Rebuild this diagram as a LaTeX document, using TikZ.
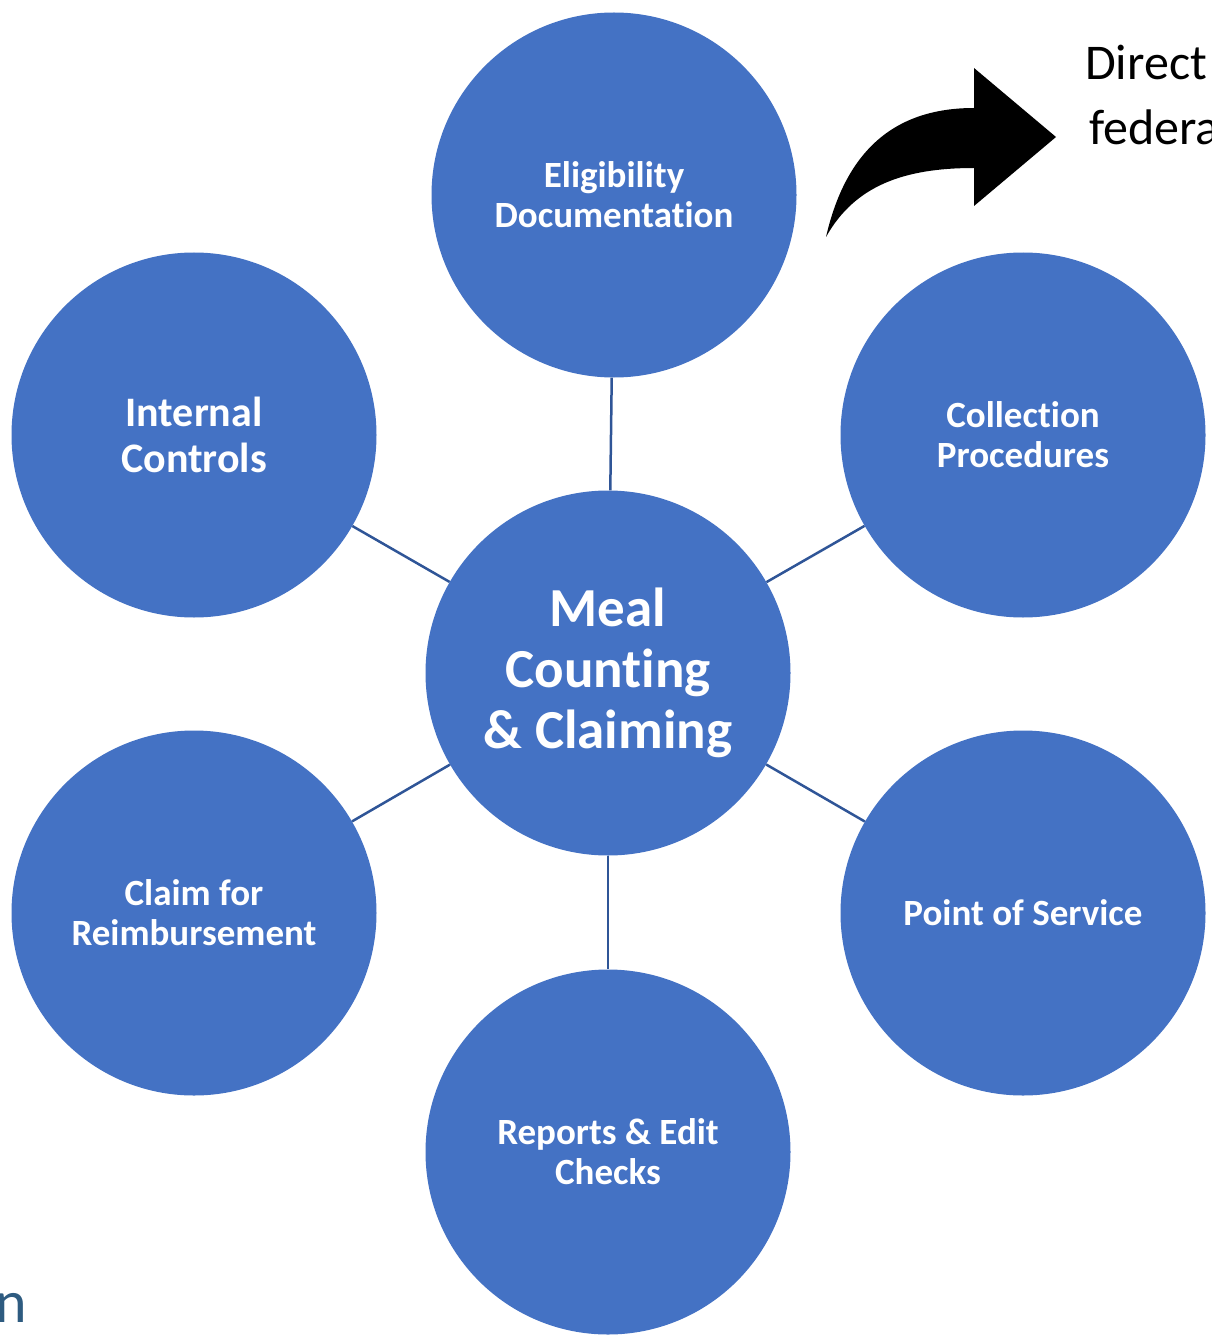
\documentclass[tikz,border=0pt]{standalone}
\usepackage{fontspec}
\setmainfont{Carlito}[Ligatures={NoCommon}]
\definecolor{cblue}{HTML}{4472C4}
\definecolor{lblue}{HTML}{2F5597}
\definecolor{nblue}{HTML}{2E5B80}
\tikzset{
  bub/.style={circle, fill=cblue, minimum size=365pt, inner sep=0pt, text=white, align=center, font=\bfseries\fontsize{37}{40}\selectfont},
  link/.style={draw=lblue, line width=2.5pt},
  side/.style={anchor=base west, inner sep=0pt, font=\fontsize{50}{60}\selectfont}
}
\begin{document}
\begin{tikzpicture}[x=1pt,y=-1pt]
\useasboundingbox (0,0) rectangle (1211,1340);
\begin{scope}
\clip (0,0) rectangle (1211,1340);
\node[bub] (elig) at (614,195) {Eligibility\\Documentation};
\node[bub, font=\bfseries\fontsize{42}{46}\selectfont] (int) at (194,435) {Internal\\Controls};
\node[bub] (coll) at (1023,435) {Collection\\Procedures};
\node[bub, font=\bfseries\fontsize{55}{61}\selectfont] (meal) at (608,673) {Meal\\Counting\\\& Claiming};
\node[bub] (claim) at (194,913) {Claim for\\Reimbursement};
\node[bub] (pos) at (1023,913) {Point of Service};
\node[bub] (rep) at (608,1152) {Reports \& Edit\\Checks};
\draw[link] (meal) -- (elig);
\draw[link] (meal) -- (int);
\draw[link] (meal) -- (coll);
\draw[link] (meal) -- (claim);
\draw[link] (meal) -- (pos);
\draw[link] (meal) -- (rep);
% curved arrow
\fill[black] (826,237) .. controls (846,150) and (895,108) .. (974,108)
  -- (974,68) -- (1056,137) -- (974,206) -- (974,168)
  .. controls (905,168) and (855,185) .. (826,237) -- cycle;
\node[side] (d1) at (1085,80) {Direct};
\node[side] (d2) at (1089,145) {federa};
\node[anchor=south east, inner sep=0pt, text=nblue, font=\fontsize{60}{70}\selectfont] (nfrag) at (27,1323) {n};
\end{scope}
\end{tikzpicture}
\end{document}
